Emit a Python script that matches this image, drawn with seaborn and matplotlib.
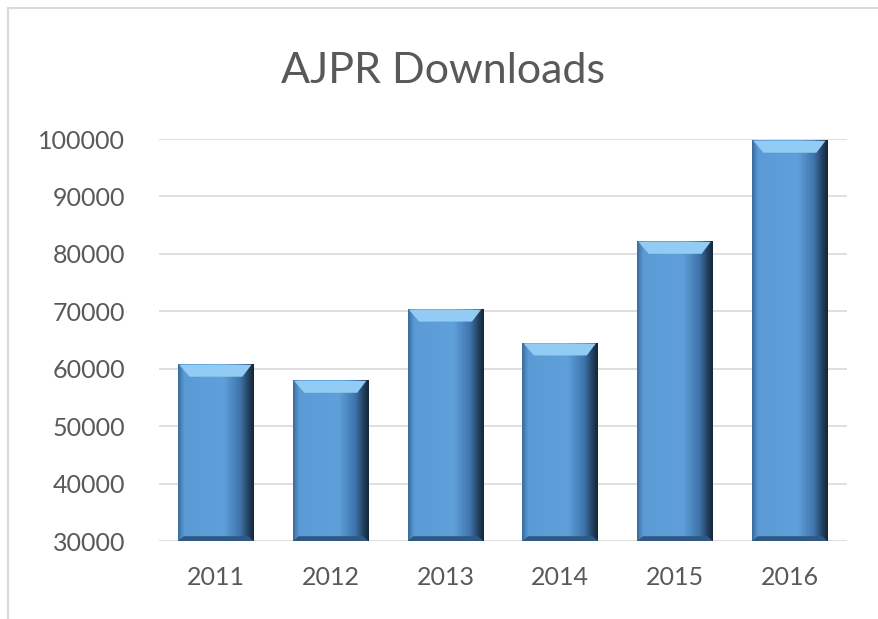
import numpy as np
import pandas as pd
import matplotlib
matplotlib.use("Agg")
import matplotlib.pyplot as plt
import seaborn as sns
from matplotlib.colors import LinearSegmentedColormap
from matplotlib.patches import Polygon, Rectangle

# data
years = ["2011", "2012", "2013", "2014", "2015", "2016"]
downloads = [60700, 57900, 70300, 64400, 82100, 99700]
y_ticks = [30000, 40000, 50000, 60000, 70000, 80000, 90000, 100000]

df = pd.DataFrame({"year": years, "downloads": downloads})

sns.set_style("white")
plt.rcParams["font.family"] = ["Lato", "DejaVu Sans"]

fig = plt.figure(figsize=(8.79, 6.19), dpi=100)
ax = fig.add_axes([0.1804, 0.126, 0.7836, 0.6494])

sns.barplot(data=df, x="year", y="downloads", color="#5B9BD5",
            width=0.66, ax=ax, zorder=2)

ymin, ymax = 30000, 100000
ax.set_ylim(ymin, ymax)
ax.set_xlim(-0.5, len(years) - 0.5)
ax.set_yticks(y_ticks)
ax.set_yticklabels([str(t) for t in y_ticks])

# bevelled look on each bar (Excel style)
cmap = LinearSegmentedColormap.from_list(
    "bevel", [(0.0, "#3A6A9C"), (0.08, "#5B9BD5"), (0.6, "#5FA0DB"),
              (0.82, "#3F74AC"), (0.93, "#23405F"), (1.0, "#14253A")])
grad = np.linspace(0, 1, 256).reshape(1, -1)
dy = (ymax - ymin) * 12 / 402.0
dx = 0.1
for p in ax.patches[:len(years)]:
    x0, w = p.get_x(), p.get_width()
    top = p.get_y() + p.get_height()
    bot = max(p.get_y(), ymin)
    ax.imshow(grad, cmap=cmap, aspect="auto", extent=[x0, x0 + w, bot, top],
              zorder=3, interpolation="bilinear")
    p.set_facecolor("none")
    p.set_edgecolor("none")
    ax.add_patch(Polygon([[x0 + 0.01, top], [x0 + w - 0.02, top],
                          [x0 + w - dx, top - dy], [x0 + dx, top - dy]],
                         closed=True, facecolor="#92CBF3", edgecolor="none",
                         zorder=4))
    ax.add_patch(Polygon([[x0, bot], [x0 + w, bot],
                          [x0 + w - dx * 0.5, bot + dy * 0.4],
                          [x0 + dx * 0.5, bot + dy * 0.4]],
                         closed=True, facecolor="#2F5882", edgecolor="none",
                         zorder=4))

ax.set_ylim(ymin, ymax)
ax.set_xlim(-0.5, len(years) - 0.5)
ax.yaxis.grid(True, color="#D9D9D9", linewidth=1.2, zorder=0)
ax.set_axisbelow(True)
for s in ax.spines.values():
    s.set_visible(False)
ax.tick_params(axis="both", length=0, labelsize=18, labelcolor="#595959")
ax.tick_params(axis="y", pad=24)
ax.tick_params(axis="x", pad=18)
ax.set_xlabel("")
ax.set_ylabel("")

fig.text(0.504, 0.885, "AJPR Downloads", ha="center", va="center",
         fontsize=31, color="#595959")

# chart area border
fig.patches.append(Rectangle((8 / 879, -0.1), 1.2, 1 - 8 / 619 + 0.1,
                             transform=fig.transFigure, fill=False,
                             edgecolor="#D9D9D9", linewidth=1.5))

fig.savefig("out.png", dpi=100)
